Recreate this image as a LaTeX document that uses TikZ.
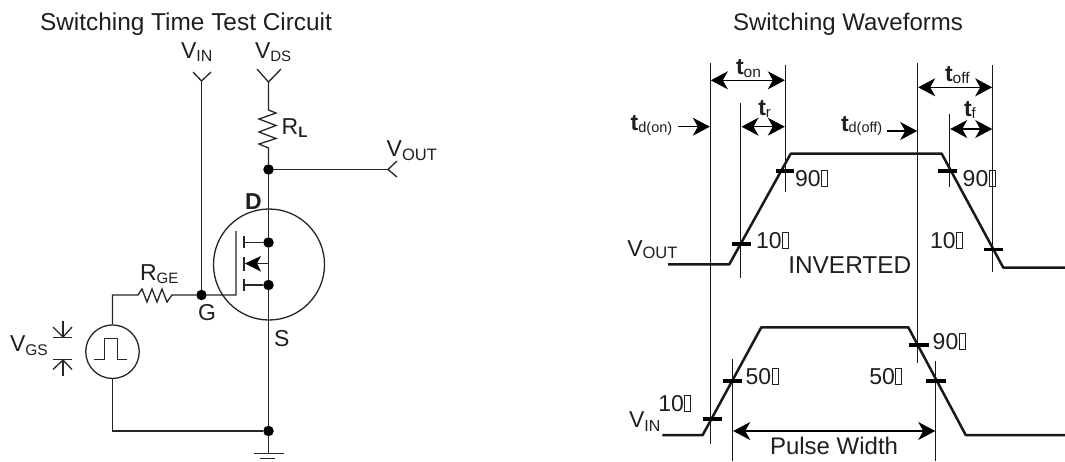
\documentclass[tikz,border=0pt]{standalone}
\usepackage{fontspec}
\setmainfont{Liberation Sans}
\usetikzlibrary{arrows.meta}
\newcommand\fsz[1]{\fontsize{#1}{#1}\selectfont}
\newcommand\sbs[3]{\raisebox{-#1pt}{\fsz{#2}#3}}
\newcommand\tofu{{\kern0.6pt\fboxsep=0pt\fboxrule=0.9pt\fbox{\rule{5pt}{0pt}\rule{0pt}{15pt}}}}
\tikzset{
 lbl/.style={anchor=base west,inner sep=0pt,outer sep=0pt,text=black!88,font=\fsz{23}},
 wire/.style={draw=black!85,line width=1.3pt},
 fine/.style={draw=black!90,line width=1.1pt},
 wave/.style={draw=black!90,line width=2.5pt,line join=round},
 tick/.style={draw=black,line width=3.6pt},
 dotn/.style={circle,fill=black,inner sep=0pt,minimum size=10.5pt},
 dim/.style={draw=black,line width=1.1pt,{Stealth[length=17pt,width=18pt,inset=5pt]}-{Stealth[length=17pt,width=18pt,inset=5pt]}},
 pointer/.style={draw=black,line width=1.1pt,-{Stealth[length=17pt,width=18pt,inset=5pt]}},
}
\begin{document}
\begin{tikzpicture}[x=1pt,y=-1pt]
\useasboundingbox (0,0) rectangle (1065,461);
\fill[white] (0,0) rectangle (1065,461);
% ---- circuit coordinates
\coordinate (vintip) at (201.5,81);
\coordinate (vdstip) at (268.5,82);
\coordinate (rlt) at (268.5,110);
\coordinate (rlb) at (268.5,148);
\coordinate (vouttip) at (388,169.5);
\coordinate (dbar) at (268.5,242.5);
\coordinate (mid) at (268.5,263.5);
\coordinate (sbar) at (268.5,285);
\coordinate (gbarT) at (236,231);
\coordinate (gbarB) at (236,295);
\coordinate (rgl) at (138,295);
\coordinate (rgr) at (172,295);
\coordinate (corner) at (112.5,295);
\coordinate (botl) at (112.5,431);
\coordinate (gndc) at (268.5,453.5);
% ---- nodes
\node[dotn] (jout) at (268.5,169.5) {};
\node[dotn] (jg) at (201.5,295) {};
\node[dotn] (jd) at (dbar) {};
\node[dotn] (js) at (sbar) {};
\node[dotn] (jb) at (268.5,431) {};
\node[circle,draw=black!85,line width=1.3pt,minimum size=111pt,inner sep=0pt] (fet) at (269,264.5) {};
\node[circle,draw=black!85,line width=1.3pt,minimum size=53.5pt,inner sep=0pt] (src) at (112.5,351.7) {};
% ---- wires
\draw[wire] (vintip) -- (jg);
\draw[wire] (193,72) -- (vintip) -- (211,72);
\draw[wire] (257,69) -- (vdstip) -- (281,69);
\draw[wire] (vdstip) -- (rlt) -- (276,113) -- (259,119) -- (276,125.5) -- (259,132) -- (276,138.5) -- (259,144) -- (rlb) -- (jout);
\draw[wire] (jout) -- (vouttip);
\draw[wire] (397,161) -- (vouttip) -- (397,177);
\draw[wire] (jout) -- (jd) -- (js) -- (jb) -- (gndc);
\draw[wire] (gbarT) -- (gbarB) -- (jg) -- (rgr) -- (167,302) -- (162,289) -- (157,302) -- (152,289) -- (147,302) -- (142,289) -- (rgl) -- (corner) -- (src.north);
\draw[wire] (src.south) -- (botl) -- (jb);
\draw[wire] (244,236) -- (244,248);
\draw[wire] (244,257) -- (244,270.5);
\draw[wire] (244,279) -- (244,291);
\draw[wire] (244,242.5) -- (jd);
\draw[wire] (244,285) -- (js);
\draw[wire] (mid) -- (246,263.5);
\fill[black] (245,263.5) -- (261,256) -- (257,263.5) -- (261,271.5) -- cycle;
% pulse
\draw[wire] (94.3,359.3) -- (104.3,359.3) -- (104.3,338.3) -- (117.3,338.3) -- (117.3,359.3) -- (127.3,359.3);
% VGS marks
\draw[wire] (63,320.7) -- (63,337.5);
\draw[wire] (53,337.5) -- (72,337.5);
\draw[wire] (53,327) -- (63,337) -- (72,327);
\draw[wire] (63,376) -- (63,359.5);
\draw[wire] (53,359.5) -- (72,359.5);
\draw[wire] (53,369.5) -- (63,360) -- (72,369.5);
% ground
\draw[wire] (254,453.5) -- (284,453.5);
\draw[line width=1.6pt,draw=black!85] (260,458.5) -- (275,458.5);
% ---- circuit labels
\node[lbl,font=\fsz{24.4}] (title1) at (40,30.5) {Switching Time Test Circuit};
\node[lbl] (vin) at (181,58) {V\sbs{3}{16}{IN}};
\node[lbl] (vds) at (255,58) {V\sbs{3}{15}{DS}};
\node[lbl] (rl) at (281.7,134) {R\sbs{3.5}{15}{\textbf{L}}};
\node[lbl] (vout) at (386.7,156.7) {V\sbs{4}{16.5}{OUT}};
\node[lbl] (dl) at (245,209.3) {\textbf{D}};
\node[lbl] (gl) at (198,320) {G};
\node[lbl] (sl) at (274,346.7) {S};
\node[lbl] (rge) at (140,280) {R\sbs{3}{15}{GE}};
\node[lbl] (vgs) at (10,351.7) {V\sbs{3.5}{15.5}{GS}};
% ---- waveform guide lines
\coordinate (a1) at (710.3,63);  \coordinate (a2) at (710.3,444);
\coordinate (b1) at (785.3,65);  \coordinate (b2) at (785.3,192);
\coordinate (c1) at (740.7,103); \coordinate (c2) at (740.7,278);
\coordinate (d1) at (917.7,63);  \coordinate (d2) at (917.7,362.7);
\coordinate (e1) at (992.7,65);  \coordinate (e2) at (992.7,271.7);
\coordinate (f1) at (949.7,114); \coordinate (f2) at (949.7,187);
\coordinate (g1) at (732.7,359); \coordinate (g2) at (732.7,461);
\coordinate (h1) at (935.7,360.7); \coordinate (h2) at (935.7,461);
\foreach \p/\q in {a1/a2,b1/b2,c1/c2,d1/d2,e1/e2,f1/f2,g1/g2,h1/h2} \draw[fine] (\p) -- (\q);
% waves
\draw[wave] (668,264.3) -- (729.3,264.3) -- (790.7,153.7) -- (941.7,153.7) -- (1003.3,267.7) -- (1065,267.7);
\draw[wave] (662.3,435) -- (702.7,435) -- (761.3,327.3) -- (908.3,327.3) -- (965.7,435) -- (1065,435);
% ticks
\draw[tick] (776,170.7) -- (794,170.7);
\draw[tick] (937.7,170.7) -- (957.3,170.7);
\draw[tick] (732.3,244) -- (750.7,244);
\draw[tick] (984,249.3) -- (1002.7,249.3);
\draw[tick] (909.3,345) -- (929,345);
\draw[tick] (722.7,380.7) -- (741.7,380.7);
\draw[tick] (926,380.7) -- (945.7,380.7);
\draw[tick] (703.3,418.7) -- (722.3,418.7);
% dimension arrows
\coordinate (ta) at (710.8,80.3); \coordinate (tb) at (784.8,80.3);
\draw[dim] (ta) -- (tb);
\coordinate (tc) at (741.5,126.7); \coordinate (td) at (784.8,126.7);
\draw[dim] (tc) -- (td);
\coordinate (te) at (918.2,87.3); \coordinate (tf) at (992.2,87.3);
\draw[dim] (te) -- (tf);
\coordinate (tg) at (950.2,129); \coordinate (th) at (992.2,129);
\draw[dim] (tg) -- (th);
\coordinate (ti) at (733.2,431); \coordinate (tj) at (935.2,431);
\draw[dim] (ti) -- (tj);
\coordinate (tk) at (678,126.7); \coordinate (tl) at (709.8,126.7);
\draw[pointer] (tk) -- (tl);
\coordinate (tm) at (886.7,131); \coordinate (tn) at (917.2,131);
\draw[pointer] (tm) -- (tn);
% ---- waveform labels
\node[lbl,font=\fsz{24}] (title2) at (733,30.7) {Switching Waveforms};
\node[lbl] (ton) at (736,74) {\textbf{t}\sbs{3}{15.5}{on}};
\node[lbl] (tr) at (758.3,115) {\textbf{t}\sbs{2}{15}{r}};
\node[lbl] (toff) at (945,81.7) {\textbf{t}\sbs{2}{15.5}{off}};
\node[lbl] (tfl) at (964,116.7) {\textbf{t}\sbs{2}{15}{f}};
\node[lbl] (tdon) at (630.7,130) {\textbf{t}\sbs{2}{14.5}{d(on)}};
\node[lbl] (tdoff) at (841,131.7) {\textbf{t}\sbs{1}{14.5}{d(off)}};
\node[lbl] (p90a) at (795,186) {90\tofu};
\node[lbl] (p90b) at (962.7,186) {90\tofu};
\node[lbl] (p10a) at (756,248.3) {10\tofu};
\node[lbl] (p10b) at (930,248.3) {10\tofu};
\node[lbl] (voutr) at (627.3,256) {V\sbs{2}{16.5}{OUT}};
\node[lbl,font=\fsz{24.4}] (inv) at (788.3,273.3) {INVERTED};
\node[lbl] (p90c) at (932.7,349.3) {90\tofu};
\node[lbl] (p50a) at (745.7,384.3) {50\tofu};
\node[lbl] (p50b) at (869.3,384.3) {50\tofu};
\node[lbl] (p10c) at (658.3,411) {10\tofu};
\node[lbl] (vinr) at (629,427.3) {V\sbs{4}{16}{IN}};
\node[lbl,font=\fsz{24}] (pw) at (770,454) {Pulse Width};
\end{tikzpicture}
\end{document}
